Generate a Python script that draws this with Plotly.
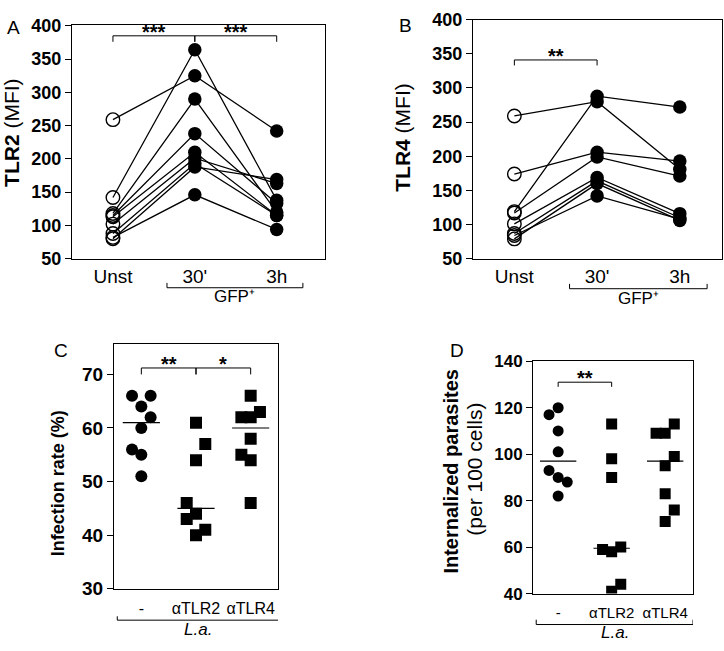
import numpy as np
import plotly.graph_objects as go

FONT = "Liberation Sans, Arial, sans-serif"
W, H = 724, 651

# ---------------- data ----------------
time_labels = ["Unst", "30'", "3h"]
# Panel A: TLR2 (MFI), one entry per donor (Unst, 30', 3h)
tlr2_unst = [259, 142, 118, 115, 113, 102, 88, 80, 82]
tlr2_30m = [325, 364, 290, 238, 210, 201, 193, 188, 146]
tlr2_3h = [242, 138, 120, 133, 115, 163, 115, 169, 94]
# Panel B: TLR4 (MFI)
tlr4_unst = [259, 119, 174, 117, 101, 87, 79, 84]
tlr4_30m = [280, 288, 206, 199, 169, 164, 160, 142]
tlr4_3h = [181, 272, 193, 171, 116, 110, 106, 108]

treat_labels = ["-", "αTLR2", "αTLR4"]
# Panel C: infection rate (%)
inf_none = [66, 66, 64, 62, 60, 56, 55, 51]
inf_tlr2 = [61, 57, 54, 46, 44, 43, 41, 40]
inf_tlr4 = [66, 63, 62, 62, 58, 55, 54, 46]
# Panel D: internalized parasites (per 100 cells)
par_none = [117, 120, 110, 101, 93, 90, 88, 82]
par_tlr2 = [113, 98, 90, 59, 58, 60, 44, 41]
par_tlr4 = [109, 109, 113, 99, 95, 83, 76, 71]

# horizontal scatter slot of each dot (layout only, in units of SPREAD)
inf_none_slot = [-1, 1, 0, 1, 0, -1, 0, 0]
inf_tlr2_slot = [0, 1, 0, -1, 0, -1, 1, 0]
inf_tlr4_slot = [0, 1, -1, 0, 0, -1, 0, 0]
par_none_slot = [-1, 0, 0, 0, -1, 0, 1, 0]
par_tlr2_slot = [0, 0, 0, -1, 0, 1, 1, 0]
par_tlr4_slot = [-1, 0, 1, 1, 0, 0, 1, 0]
SPREAD = 0.17


def py(p):
    return 1 - p / H


def px(p):
    return p / W


fig = go.Figure()

# ---------------- A & B: paired lines ----------------
def paired(unst, m30, h3, xa, ya):
    for a, b, c in zip(unst, m30, h3):
        fig.add_trace(go.Scatter(x=[0, 1, 2], y=[a, b, c], mode="lines",
                                 line=dict(color="black", width=1.3),
                                 xaxis=xa, yaxis=ya, hoverinfo="skip"))
    fig.add_trace(go.Scatter(x=[0] * len(unst), y=unst, mode="markers",
                             marker=dict(symbol="circle-open", size=13.5,
                                         color="black", line=dict(width=1.4)),
                             xaxis=xa, yaxis=ya))
    fig.add_trace(go.Scatter(x=[1] * len(m30) + [2] * len(h3), y=list(m30) + list(h3),
                             mode="markers",
                             marker=dict(symbol="circle", size=13.5, color="black"),
                             xaxis=xa, yaxis=ya))


paired(tlr2_unst, tlr2_30m, tlr2_3h, "x", "y")
paired(tlr4_unst, tlr4_30m, tlr4_3h, "x2", "y2")

# ---------------- C & D: dot plots with medians ----------------
def dots(groups, slots, symbols, size, xa, ya):
    for i, (vals, sl, sym) in enumerate(zip(groups, slots, symbols)):
        fig.add_trace(go.Scatter(x=[i + s * SPREAD for s in sl], y=vals, mode="markers",
                                 marker=dict(symbol=sym, size=size, color="black"),
                                 xaxis=xa, yaxis=ya))
        med = float(np.median(vals))
        fig.add_trace(go.Scatter(x=[i - 0.34, i + 0.34], y=[med, med], mode="lines",
                                 line=dict(color="black", width=1.2),
                                 xaxis=xa, yaxis=ya, hoverinfo="skip"))


dots([inf_none, inf_tlr2, inf_tlr4], [inf_none_slot, inf_tlr2_slot, inf_tlr4_slot],
     ["circle", "square", "square"], 12, "x3", "y3")
dots([par_none, par_tlr2, par_tlr4], [par_none_slot, par_tlr2_slot, par_tlr4_slot],
     ["circle", "square", "square"], 11, "x4", "y4")

# ---------------- axes ----------------
def yaxis(domain, rng, dtick, size, anchor):
    return dict(domain=domain, range=rng, dtick=dtick, anchor=anchor,
                ticks="outside", ticklen=6, tickwidth=1, tickcolor="black",
                showline=True, linecolor="black", linewidth=1, mirror=True,
                showgrid=False, zeroline=False,
                tickfont=dict(family=FONT, size=size, color="black", weight="bold"))


def xaxis(domain, rng, labels, size, anchor, standoff=0):
    return dict(domain=domain, range=rng, anchor=anchor,
                tickmode="array", tickvals=[0, 1, 2], ticktext=labels,
                ticks="", showline=True, linecolor="black", linewidth=1, mirror=True,
                showgrid=False, zeroline=False, ticklabelstandoff=standoff,
                tickfont=dict(family=FONT, size=size, color="black"))


fig.update_layout(
    width=W, height=H, margin=dict(l=0, r=0, t=0, b=0),
    paper_bgcolor="white", plot_bgcolor="white", showlegend=False,
    font=dict(family=FONT, color="black"),
    xaxis=xaxis([px(72), px(325)], [-0.5, 2.59], time_labels, 19, "y"),
    yaxis=yaxis([py(257), py(15)], [50, 402], 50, 18, "x"),
    xaxis2=xaxis([px(473), px(722)], [-0.5, 2.51], time_labels, 19, "y2"),
    yaxis2=yaxis([py(257), py(10)], [50, 400], 50, 18, "x2"),
    xaxis3=xaxis([px(114), px(278)], [-0.5, 2.5], treat_labels, 16, "y3", 5),
    yaxis3=yaxis([py(598), py(345)], [30, 75.7], 10, 19, "x3"),
    xaxis4=xaxis([px(533), px(693)], [-0.47, 2.52], treat_labels, 15, "y4", 5),
    yaxis4=yaxis([py(603), py(363)], [40, 140], 20, 17, "x4"),
)

# ---------------- decorations ----------------
shapes = []
ann = []
LINE = dict(color="black", width=1)


def sig(xref, yref, x0, x1, ytop, ybot, text, size=20):
    shapes.append(dict(type="path", xref=xref, yref=yref, line=LINE,
                       path=f"M {x0},{ybot} L {x0},{ytop} L {x1},{ytop} L {x1},{ybot}"))
    ann.append(dict(xref=xref, yref=yref, x=(x0 + x1) / 2, y=ytop, text=text,
                    showarrow=False, yanchor="bottom", yshift=-9,
                    font=dict(family=FONT, size=size, color="black", weight="bold")))


sig("x", "y", 0, 1, 385, 376, "***")
sig("x", "y", 1, 2, 385, 376, "***")
sig("x2", "y2", 0, 1, 341, 333, "**")
sig("x3", "y3", 0, 1, 71.2, 70, "**")
sig("x3", "y3", 1, 2, 71.2, 70, "*")
sig("x4", "y4", 0, 1, 131, 129, "**")


def group(xref, x0, x1, ytop, ybot, text, ytext, size, style="normal"):
    shapes.append(dict(type="path", xref=xref, yref="paper", line=LINE,
                       path=f"M {x0},{py(ytop)} L {x0},{py(ybot)} L {x1},{py(ybot)} L {x1},{py(ytop)}"))
    ann.append(dict(xref=xref, yref="paper", x=(x0 + x1) / 2, y=py(ytext), text=text,
                    showarrow=False, yanchor="middle",
                    font=dict(family=FONT, size=size, color="black", style=style)))


group("x", 0.66, 2.32, 282, 287, "GFP⁺", 296, 17)
group("x2", 0.667, 2.33, 283, 288, "GFP⁺", 298, 17)
group("x3", -0.44, 2.53, 626.5, 630.5, "L.a.", 640, 17, "italic")
group("x4", -0.41, 2.52, 630, 635, "L.a.", 643, 17, "italic")


def text(x, y, t, size, angle=0, weight="normal"):
    ann.append(dict(xref="paper", yref="paper", x=px(x), y=py(y), text=t,
                    showarrow=False, xanchor="center", yanchor="middle", textangle=angle,
                    font=dict(family=FONT, size=size, color="black", weight=weight)))


# panel letters
text(13, 18, "A", 19)
text(406, 16, "B", 19)
text(61, 352, "C", 19)
text(457, 352, "D", 19)
# y titles
text(12, 127, "<b>TLR2</b> (MFI)", 21, -90)
text(403, 132, "<b>TLR4</b> (MFI)", 21, -90)
text(58, 489, "Infection rate (%)", 18, -90, "bold")
text(451, 477, "Internalized parasites", 20, -90, "bold")
text(475, 475, "(per 100 cells)", 21, -90)

fig.update_layout(shapes=shapes, annotations=ann)
fig.write_html("out.html", config={"displayModeBar": False},
               post_script="document.body.style.margin='0';document.body.style.overflow='hidden';")
